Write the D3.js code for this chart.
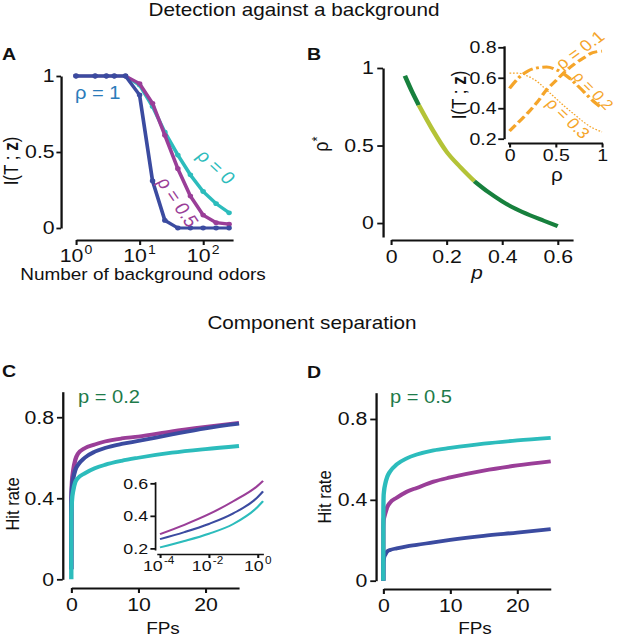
<!DOCTYPE html>
<html><head><meta charset="utf-8">
<script src="https://cdn.jsdelivr.net/npm/d3@7"></script>
<style>body{margin:0;background:#fff;overflow:hidden}</style>
</head><body>
<script>
// ---------------- DATA ----------------
// Panel A: information vs number of background odors
const aOdors   = [1,2,3,4,6,10,16,25,40,63,100,160,256];
const aRho1    = [1,1,1,1,1,0.875,0.31,0.05,0,0,0,0,0];
const aRho05   = [1,1,1,1,1,0.95,0.82,0.61,0.39,0.21,0.085,0.035,0.025];
const aRho0    = [1,1,1,1,1,0.94,0.80,0.63,0.48,0.35,0.24,0.16,0.10];
const aYTicks  = [0,0.5,1];
const aXTicks  = [1,10,100];
// Panel B: optimal rho vs p
const bP       = [0.05,0.075,0.1,0.15,0.2,0.25,0.3,0.35,0.4,0.45,0.5,0.55,0.6];
const bRhoStar = [0.95,0.85,0.76,0.60,0.46,0.36,0.27,0.20,0.14,0.09,0.05,0.015,-0.02];
const bXTicks  = [0,0.2,0.4,0.6];
const bYTicks  = [0,0.5,1];
// Panel B inset: I(T;z) vs rho for p = 0.1, 0.2, 0.3
const biRho    = [0,0.1,0.2,0.3,0.4,0.5,0.6,0.7,0.8,0.9,1];
const biP01    = [0.25,0.31,0.37,0.44,0.52,0.58,0.64,0.69,0.73,0.765,0.775];
const biP02    = [0.53,0.60,0.645,0.665,0.67,0.655,0.62,0.57,0.51,0.45,0.40];
const biP03    = [0.63,0.63,0.61,0.575,0.52,0.465,0.41,0.36,0.31,0.27,0.245];
const biXTicks = [0,0.5,1];
const biYTicks = [0.2,0.4,0.6,0.8];
// Panels C, D: hit rate vs false positives
const fps      = [0,0.01,0.05,0.1,0.3,0.6,1,2,3.5,5,7.5,10,15,20,25];
const cPurple  = [0.05,0.38,0.44,0.48,0.54,0.59,0.62,0.647,0.665,0.68,0.695,0.704,0.73,0.752,0.772];
const cBlue    = [0.05,0.36,0.42,0.45,0.50,0.54,0.565,0.60,0.63,0.648,0.668,0.683,0.715,0.745,0.768];
const cTeal    = [0,0.30,0.36,0.39,0.44,0.48,0.50,0.523,0.548,0.565,0.585,0.60,0.625,0.643,0.658];
const dPurple  = [0,0.26,0.30,0.31,0.335,0.365,0.386,0.41,0.44,0.459,0.49,0.511,0.545,0.57,0.59];
const dBlue    = [0,0.09,0.105,0.115,0.13,0.145,0.152,0.16,0.17,0.177,0.19,0.202,0.222,0.238,0.255];
const dTeal    = [0,0.34,0.42,0.44,0.48,0.515,0.54,0.575,0.605,0.624,0.645,0.657,0.678,0.694,0.707];
const cdXTicks = [0,10,20];
const cdYTicks = [0,0.4,0.8];
// Panel C inset (log FP)
const ciFP     = [1e-4,1e-3,1e-2,1e-1,1,1.66];
const ciPurple = [0.288,0.345,0.41,0.49,0.585,0.615];
const ciBlue   = [0.257,0.30,0.35,0.415,0.515,0.55];
const ciTeal   = [0.206,0.245,0.29,0.35,0.455,0.49];
const ciXTicks = [1e-4,1e-2,1];
const ciYTicks = [0.2,0.4,0.6];

// ---------------- SETUP ----------------
const W = 617, H = 637, S = 1.15;          // figure is horizontally stretched
const X = v => v / S;
const FONT = "'Liberation Sans', Arial, Helvetica, sans-serif";
const TICK = 18.5;
const C = {blue:"#3b4ba0", purple:"#9a3e98", teal:"#2cbcbc", rhoLbl:"#2b7bba",
           dgreen:"#17803d", lgreen:"#b4c337", orange:"#f5a52a", ptext:"#1e7b4a", ink:"#111"};

const svg = d3.select("body").append("svg")
  .attr("width", W).attr("height", H)
  .attr("viewBox", `0 0 ${W/S} ${H}`).attr("preserveAspectRatio","none")
  .style("font-family", FONT);

// apparent rotation angle (on screen) -> angle in stretched design space
const rotD = a => Math.atan(S * Math.tan(a * Math.PI / 180)) * 180 / Math.PI;

function txt(x, y, s, o = {}) {
  const t = svg.append("text").attr("x", X(x)).attr("y", y).text(s)
    .attr("font-size", o.fs || 16.5).attr("fill", o.fill || C.ink)
    .attr("text-anchor", o.anchor || "start");
  if (o.bold) t.attr("font-weight", "bold");
  if (o.italic) t.attr("font-style", "italic");
  if (o.rot !== undefined) t.attr("x", 0).attr("y", 0)
    .attr("transform", `translate(${X(x)},${y}) rotate(${o.rawRot ? o.rot : rotD(o.rot)})`);
  return t;
}
function styleAxis(g, fs) {
  g.attr("font-family", FONT).attr("font-size", fs);
  g.select(".domain").attr("stroke", C.ink).attr("stroke-width", 2);
  g.selectAll(".tick line").attr("stroke", C.ink).attr("stroke-width", 1.8);
  g.selectAll(".tick text").attr("fill", C.ink);
}
// power-of-ten labels: base "10" and exponent as separate texts
function powLabels(scale, ticks, baseY, fs) {
  ticks.forEach(d => {
    const e = Math.round(Math.log10(d));
    const es = e < 0 ? "-" + (-e) : String(e);
    const efs = fs * 0.66;
    const ew = es.length * 0.556 * efs;
    const total = 1.112 * fs + ew + 1;
    const x0 = scale(d) - total / 2;
    svg.append("text").attr("x", x0).attr("y", baseY).attr("font-size", fs).attr("fill", C.ink).text("10");
    svg.append("text").attr("x", x0 + 1.112 * fs + 1).attr("y", baseY - 0.45 * fs)
      .attr("font-size", efs).attr("fill", C.ink).text(es);
  });
}
const zip = (xs, ys) => xs.map((x, i) => [x, ys[i]]);

// ---------------- TITLES ----------------
txt(294, 16, "Detection against a background", {fs: 18, anchor: "middle"});
txt(312, 329, "Component separation", {fs: 18, anchor: "middle"});
txt(2, 60, "A", {fs: 17, bold: true});
txt(307, 60, "B", {fs: 17, bold: true});
txt(2, 377, "C", {fs: 17, bold: true});
txt(307, 378, "D", {fs: 17, bold: true});

// ---------------- PANEL A ----------------
{
  const x = d3.scaleLog().domain([1, 295]).range([X(76), X(233)]);
  const y = d3.scaleLinear().domain([0, 1]).range([228, 76]);
  const gx = svg.append("g").attr("transform", "translate(0,240)")
    .call(d3.axisBottom(x).tickValues(aXTicks).tickSize(5).tickSizeOuter(0));
  styleAxis(gx, TICK);
  gx.selectAll(".tick text").remove();
  powLabels(x, aXTicks, 262, TICK);
  const gy = svg.append("g").attr("transform", `translate(${X(61)},0)`)
    .call(d3.axisLeft(y).tickValues(aYTicks).tickSize(4).tickSizeOuter(0).tickPadding(1.5)
      .tickFormat(d => d === 0.5 ? "0.5" : d3.format("d")(d)));
  styleAxis(gy, TICK);
  const line = d3.line().x(d => x(d[0])).y(d => y(d[1]));
  [[aRho0, C.teal], [aRho05, C.purple], [aRho1, C.blue]].forEach(([vals, col]) => {
    const pts = zip(aOdors, vals);
    svg.append("path").attr("d", line(pts)).attr("fill", "none").attr("stroke", col).attr("stroke-width", 3.2);
    svg.append("g").selectAll("circle").data(pts).join("circle")
      .attr("cx", d => x(d[0])).attr("cy", d => y(d[1])).attr("r", 2.4).attr("fill", col);
  });
  txt(75, 99, "ρ = 1", {fs: 17.5, fill: C.rhoLbl});
  txt(211, 171, "ρ = 0", {fs: 17.5, fill: C.teal, anchor: "middle", rot: 43});
  txt(172, 205, "ρ = 0.5", {fs: 17.5, fill: C.purple, anchor: "middle", rot: 56});
  const yl = txt(17.5, 161, "I(T ; ", {fs: 17, anchor: "middle", rot: -90, rawRot: true});
  yl.append("tspan").attr("font-weight", "bold").text("z");
  yl.append("tspan").text(")");
  txt(143, 280.5, "Number of background odors", {fs: 16.5, anchor: "middle"});
}

// ---------------- PANEL B ----------------
{
  const x = d3.scaleLinear().domain([0, 0.655]).range([X(391), X(573)]);
  const y = d3.scaleLinear().domain([-0.09, 1]).range([237, 68]);
  const gx = svg.append("g").attr("transform", "translate(0,240)")
    .call(d3.axisBottom(x).tickValues(bXTicks).tickSize(5).tickSizeOuter(0).tickPadding(5)
      .tickFormat(d => d === 0 ? "0" : d3.format(".1f")(d)));
  styleAxis(gx, TICK);
  const gy = svg.append("g").attr("transform", `translate(${X(383)},0)`)
    .call(d3.axisLeft(y).tickValues(bYTicks).tickSize(5).tickSizeOuter(0).tickPadding(3)
      .tickFormat(d => d === 0.5 ? "0.5" : d3.format("d")(d)));
  styleAxis(gy, TICK);
  const pts = zip(bP, bRhoStar);
  const line = d3.line().x(d => x(d[0])).y(d => y(d[1])).curve(d3.curveMonotoneX);
  const seg1 = pts.filter(d => d[0] <= 0.1), seg2 = pts.filter(d => d[0] >= 0.1 && d[0] <= 0.3), seg3 = pts.filter(d => d[0] >= 0.3);
  [[seg1, C.dgreen], [seg2, C.lgreen], [seg3, C.dgreen]].forEach(([s, col]) =>
    svg.append("path").attr("d", line(s)).attr("fill", "none").attr("stroke", col).attr("stroke-width", 4));
  const yl = txt(328, 144, "ρ", {fs: 18, anchor: "middle", rot: -90, rawRot: true});
  yl.append("tspan").attr("dy", "-0.4em").attr("font-size", 13).text("*");
  txt(477, 279, "p", {fs: 18, anchor: "middle", italic: true});

  // inset
  const xi = d3.scaleLinear().domain([0, 1]).range([X(509.5), X(602)]);
  const yi = d3.scaleLinear().domain([0.2, 0.81]).range([138.7, 45.8]);
  const gxi = svg.append("g").attr("transform", "translate(0,143.5)")
    .call(d3.axisBottom(xi).tickValues(biXTicks).tickSize(4).tickSizeOuter(0).tickPadding(1.5)
      .tickFormat(d => d === 0.5 ? "0.5" : d3.format("d")(d)));
  styleAxis(gxi, 17);
  gxi.select(".domain").attr("d", `M${X(508)},0H${X(603)}`);
  const gyi = svg.append("g").attr("transform", `translate(${X(504)},0)`)
    .call(d3.axisLeft(yi).tickValues(biYTicks).tickSize(5).tickSizeOuter(0).tickPadding(1.5)
      .tickFormat(d3.format(".1f")));
  styleAxis(gyi, 17);
  const li = d3.line().x(d => xi(d[0])).y(d => yi(d[1])).curve(d3.curveMonotoneX);
  svg.append("path").attr("d", li(zip(biRho, biP03))).attr("fill", "none").attr("stroke", C.orange)
    .attr("stroke-width", 1.2).attr("stroke-dasharray", "1.5,1.5");
  svg.append("path").attr("d", li(zip(biRho, biP02))).attr("fill", "none").attr("stroke", C.orange)
    .attr("stroke-width", 3).attr("stroke-dasharray", "10,3,2.5,3");
  svg.append("path").attr("d", li(zip(biRho, biP01))).attr("fill", "none").attr("stroke", C.orange)
    .attr("stroke-width", 3).attr("stroke-dasharray", "8,3.5");
  txt(562, 70, "ρ = 0.1", {fs: 16, fill: C.orange, rot: -36});
  txt(572, 77, "ρ = 0.2", {fs: 14.5, fill: C.orange, rot: 45});
  txt(545, 104, "ρ = 0.3", {fs: 15.5, fill: C.orange, rot: 44});
  const yl2 = txt(466, 95, "I(T ; ", {fs: 17, anchor: "middle", rot: -90, rawRot: true});
  yl2.append("tspan").attr("font-weight", "bold").text("z");
  yl2.append("tspan").text(")");
  txt(557, 181.5, "ρ", {fs: 18, anchor: "middle"});
}

// ---------------- PANELS C & D ----------------
function rocPanel(o) {
  const x = d3.scaleLinear().domain([0, 25]).range([X(o.x0), X(o.x1)]);
  const y = d3.scaleLinear().domain([0, o.ytop]).range([o.y0, o.y1]);
  const gx = svg.append("g").attr("transform", `translate(0,${o.axY})`)
    .call(d3.axisBottom(x).tickValues(cdXTicks).tickSize(5).tickSizeOuter(0).tickPadding(5));
  styleAxis(gx, TICK);
  const gy = svg.append("g").attr("transform", `translate(${X(o.axX)},0)`)
    .call(d3.axisLeft(y).tickValues(cdYTicks).tickSize(5).tickSizeOuter(0).tickPadding(2.5)
      .tickFormat(d => d === 0 ? "0" : d3.format(".1f")(d)));
  styleAxis(gy, TICK);
  const line = d3.line().x(d => x(d[0])).y(d => y(d[1])).curve(d3.curveMonotoneX);
  [[o.purple, C.purple], [o.blue, C.blue], [o.teal, C.teal]].forEach(([v, col]) =>
    svg.append("path").attr("d", line(zip(fps, v))).attr("fill", "none").attr("stroke", col).attr("stroke-width", 3.8));
  txt(o.ptx, o.pty, o.ptext, {fs: 17.5, fill: C.ptext});
  txt(o.hx, o.hy, "Hit rate", {fs: 16.5, anchor: "middle", rot: -90, rawRot: true});
  txt(o.fx, 634, "FPs", {fs: 16.5, anchor: "middle"});
}
rocPanel({x0: 71.3, x1: 239, y0: 579.3, y1: 391.7, ytop: 0.926, axY: 588, axX: 62.7,
  purple: cPurple, blue: cBlue, teal: cTeal, ptext: "p = 0.2", ptx: 78, pty: 403.5, hx: 18.5, hy: 504, fx: 163});
rocPanel({x0: 383.3, x1: 550.7, y0: 580.7, y1: 392.7, ytop: 0.93, axY: 589, axX: 376,
  purple: dPurple, blue: dBlue, teal: dTeal, ptext: "p = 0.5", ptx: 390, pty: 403, hx: 331, hy: 497, fx: 475});

// Panel C inset
{
  const x = d3.scaleLog().domain([Math.pow(10, -4.135), Math.pow(10, 0.23)]).range([X(156.7), X(263.3)]);
  const y = d3.scaleLinear().domain([0.19, 0.61]).range([550, 481.7]);
  const gx = svg.append("g").attr("transform", "translate(0,554)")
    .call(d3.axisBottom(x).tickValues(ciXTicks).tickSize(4).tickSizeOuter(0));
  styleAxis(gx, 15.5);
  gx.selectAll(".tick text").remove();
  gx.select(".domain").attr("stroke-width", 1.5);
  powLabels(x, ciXTicks, 571, 15.5);
  const gy = svg.append("g").attr("transform", `translate(${X(155)},0)`)
    .call(d3.axisLeft(y).tickValues(ciYTicks).tickSize(4).tickSizeOuter(0).tickPadding(2)
      .tickFormat(d3.format(".1f")));
  styleAxis(gy, 15.5);
  gy.select(".domain").attr("stroke-width", 1.5);
  const line = d3.line().x(d => x(d[0])).y(d => y(d[1])).curve(d3.curveMonotoneX);
  [[ciPurple, C.purple], [ciBlue, C.blue], [ciTeal, C.teal]].forEach(([v, col]) =>
    svg.append("path").attr("d", line(zip(ciFP, v))).attr("fill", "none").attr("stroke", col).attr("stroke-width", 2));
}
</script>
</body></html>
